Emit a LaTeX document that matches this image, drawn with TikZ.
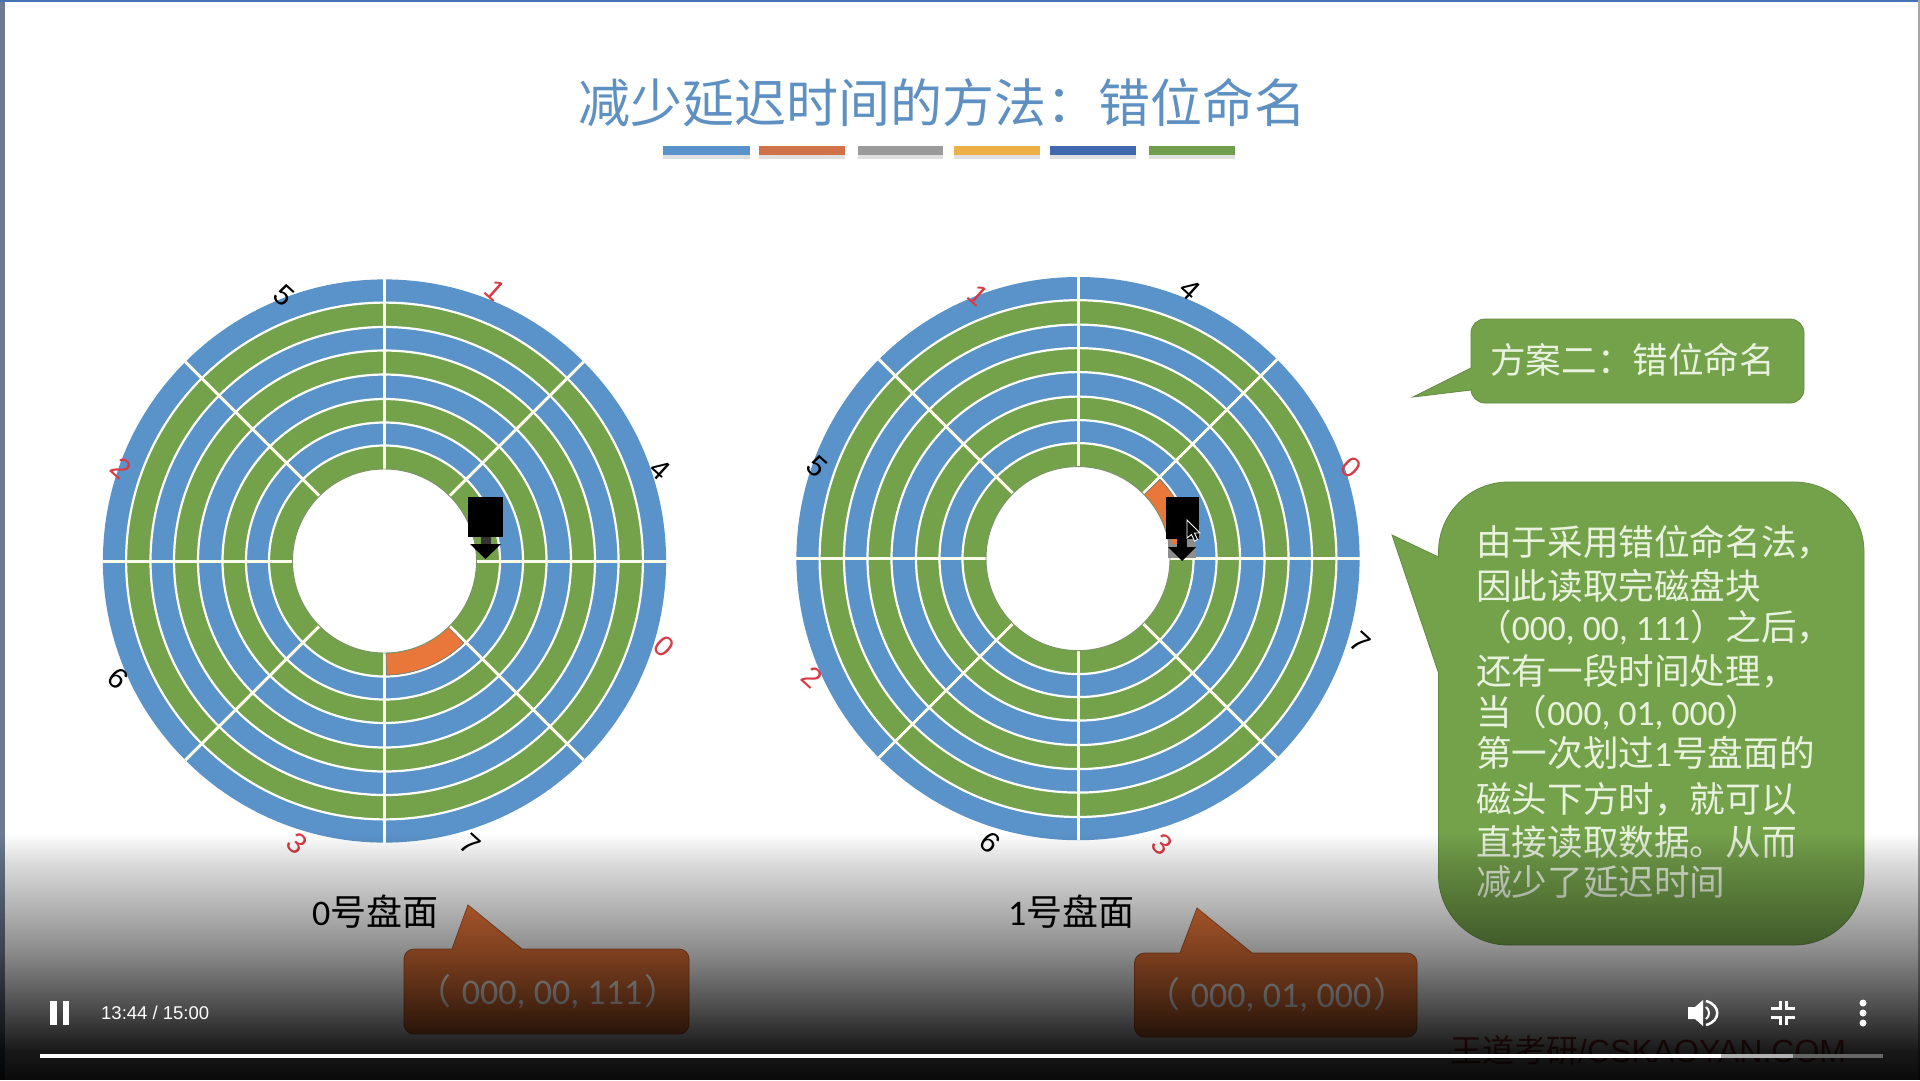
\documentclass[tikz,border=0pt]{standalone}
\usepackage{fontspec}
\setmainfont{Noto Sans CJK SC}
\newfontfamily\la{Carlito}
\newfontfamily\ar{Liberation Sans}
\definecolor{dblue}{HTML}{5A93C9}
\definecolor{dgreen}{HTML}{74A24B}
\definecolor{dorange}{HTML}{E9773A}
\definecolor{numred}{HTML}{D93A44}
\definecolor{btxt}{HTML}{E8F2DE}
\definecolor{edgeL}{HTML}{6C7B90}
\definecolor{edgeT}{HTML}{4472B4}
\newcommand{\fsz}[1]{\fontsize{#1}{#1}\selectfont}
\tikzset{
  x=1pt,y=-1pt,
  gline/.style={white,line width=2.2pt},
  rline/.style={white!92!yellow,line width=3pt},
  nlabel/.style={font=\ar\fsz{29},inner sep=0pt,rotate=-42},
  blk/.style={nlabel,text=black},
  rd/.style={nlabel,text=numred},
  bline/.style={font=\fsz{35.6},text=btxt,inner sep=0pt,anchor=base west},
  bubble/.style={fill=dgreen,draw=dgreen!85!black,line width=0.8pt},
  brown/.style={fill=dorange,draw=dorange!75!black,line width=0.8pt},
  ctrl/.style={fill=white,draw=none},
}
\newcommand{\ringdisc}[2]{%
  \begin{scope}[shift={(#1,#2)}]
    \fill[dblue] (0,0) circle[radius=281.6pt];
    \fill[dgreen] (0,0) circle[radius=258.4pt];
    \fill[dblue] (0,0) circle[radius=234pt];
    \fill[dgreen] (0,0) circle[radius=210.5pt];
    \fill[dblue] (0,0) circle[radius=186.5pt];
    \fill[dgreen] (0,0) circle[radius=162pt];
    \fill[dblue] (0,0) circle[radius=138.5pt];
    \fill[dgreen] (0,0) circle[radius=115.5pt];
    \foreach \r in {258.4,234,210.5,186.5,162,138.5,115.5}
      \draw[gline] (0,0) circle[radius=\r pt];
    \foreach \a in {0,45,...,315}
      \draw[rline] (\a:91.4pt) -- (\a:281.6pt);
  \end{scope}}
\newcommand{\holedisc}[2]{%
  \fill[white,draw=dgreen!50!gray,line width=0.9pt] (#1,#2) circle[radius=92pt];}
\newcommand{\sect}[4]{%
  \begin{scope}[shift={(#1,#2)}]
    \fill[dorange,draw=black!50!white,line width=0.8pt] (#3:92pt) arc[start angle=#3,end angle=#4,radius=92pt] -- (#4:114pt) arc[start angle=#4,end angle=#3,radius=114pt] -- cycle;
  \end{scope}}
\begin{document}
\begin{tikzpicture}
\useasboundingbox (0,0) rectangle (1920,1080);
\fill[white] (0,0) rectangle (1920,1080);
% window edges
\fill[edgeL] (0,0) rectangle (4.5,1080);
\fill[edgeT] (0,0) rectangle (1920,2);
\fill[black!35] (1918,0) rectangle (1920,1080);
% title
\node[font=\fsz{52},text=dblue!90!gray,inner sep=0pt] (title) at (942,103) {减少延迟时间的方法：错位命名};
\foreach \xa/\xb/\c in {663/750/5A93C9,759/845/D0734A,858/943/9A9A9A,954/1040/EDB045,1050/1136/3F68AE,1149/1235/6F9F4D}{
  \definecolor{barc}{HTML}{\c}
  \fill[black,opacity=.12] (\xa,149) rectangle (\xb,159);
  \fill[barc] (\xa,146) rectangle (\xb,155);
}
% discs
\ringdisc{384.5}{561}
\ringdisc{1078}{558.6}
\sect{384.5}{561}{271}{314}
\sect{1078}{558.6}{1}{44}
\holedisc{384.5}{561}
\holedisc{1078}{558.6}
% disc labels
\node[rd]  (la1) at (494.7,290.7) {1};
\node[blk] (la4) at (660,469.5) {4};
\node[rd]  (la0) at (664,646.6) {0};
\node[blk] (la7) at (470,844) {7};
\node[rd]  (la3) at (296.7,843) {3};
\node[blk] (la6) at (118,678) {6};
\node[rd]  (la2) at (121,468.7) {2};
\node[blk] (la5) at (283.7,295.5) {5};
\node[rd]  (lb1) at (978,295.5) {1};
\node[blk] (lb4) at (1190,289.5) {4};
\node[rd]  (lb0) at (1351.6,467.5) {0};
\node[blk] (lb7) at (1360,642.6) {7};
\node[rd]  (lb3) at (1162,844) {3};
\node[blk] (lb6) at (990,842) {6};
\node[rd]  (lb2) at (812,677) {2};
\node[blk] (lb5) at (817,466.3) {5};
% read heads
\fill[black] (468,497) rectangle (503,537);
\fill[black!80] (481,537) rectangle (491,544);
\fill[black] (470,544) -- (501,544) -- (485.5,559) -- cycle;
\fill[black!45] (1168,539) rectangle (1196,558);
\fill[dorange] (1171,539) rectangle (1177,544);
\fill[black] (1166,497) rectangle (1199,539);
\fill[black] (1177,539) rectangle (1187,547);
\fill[black] (1168,547) -- (1196,547) -- (1182,561) -- cycle;
\fill[black,draw=white,line width=0.9pt] (1187,520) -- (1187,538) -- (1191.5,534.5) -- (1194.5,541) -- (1197.5,539.5) -- (1194.5,533) -- (1200,533) -- cycle;
% callouts
\path[bubble] (1413,397) -- (1471,368) [rounded corners=14pt] -- (1471,319) -- (1804,319) -- (1804,403) -- (1471,403) [sharp corners] -- (1471,390) -- cycle;
\node[bline] (s1) at (1490,373) {方案二：错位命名};
\path[bubble] (1392,535) -- (1438.5,557) [rounded corners=70pt] -- (1438.5,482) -- (1864,482) -- (1864,945) -- (1438.5,945) [sharp corners] -- (1438.5,673) -- cycle;
\node[bline] (t1) at (1476,555.5) {由于采用错位命名法，};
\node[bline] (t2) at (1476,599) {因此读取完磁盘块};
\node[bline] (t3) at (1476,640.5) {（{\la 000, 00, 111}）之后，};
\node[bline] (t4) at (1476,684) {还有一段时间处理，};
\node[bline] (t5) at (1476,725.5) {当（{\la 000, 01, 000}）};
\node[bline] (t6) at (1476,766) {第一次划过{\la 1}号盘面的};
\node[bline] (t7) at (1476,812.5) {磁头下方时，就可以};
\node[bline] (t8) at (1476,855.5) {直接读取数据。从而};
\node[bline] (t9) at (1476,895.5) {减少了延迟时间};
\path[brown] (468,905) -- (522,949) [rounded corners=10pt] -- (689,949) -- (689,1034) -- (404,1034) -- (404,949) [sharp corners] -- (452,949) -- cycle;
\path[brown] (1197,908) -- (1252,953) [rounded corners=10pt] -- (1417,953) -- (1417,1037) -- (1134.5,1037) -- (1134.5,953) [sharp corners] -- (1180,953) -- cycle;
\node[font=\fsz{35},text=white,inner sep=0pt] (b1) at (548,992) {（\kern2pt{\la\fsz{36} 000, 00, 111}\kern2pt）};
\node[font=\fsz{35},text=white,inner sep=0pt] (b2) at (1277,995) {（\kern2pt{\la\fsz{36} 000, 01, 000}\kern2pt）};
\node[font=\fsz{36},inner sep=0pt,anchor=west] (d0) at (312,912) {{\la 0}号盘面};
\node[font=\fsz{36},inner sep=0pt,anchor=west] (d1) at (1008,912) {{\la 1}号盘面};
\node[font=\fsz{32},text=red!60!black!80!white,inner sep=0pt,anchor=west] (wm) at (1450,1050) {王道考研{\ar /CSKAOYAN.COM}};
% video overlay, one strip per pixel row
\foreach \yy in {833,...,1079}{
  \pgfmathsetmacro{\aa}{\yy<860 ? .13*(\yy-833)/27 : (\yy<950 ? .13+.32*(\yy-860)/90 : (\yy<1000 ? .45+.22*(\yy-950)/50 : (\yy<1050 ? .67+.23*(\yy-1000)/50 : .90+.06*(\yy-1050)/30)))}
  \fill[black,opacity=\aa] (0,\yy) rectangle (1920,\yy+1);
}
% player controls
\fill[ctrl] (50,1001) rectangle (56.5,1025);
\fill[ctrl] (62.5,1001) rectangle (69,1025);
\node[font=\ar\fsz{18.5},text=white,inner sep=0pt,anchor=west] (time) at (101,1013) {13:44 / 15:00};
\fill[white!40!black] (40,1053.5) rectangle (1883,1058);
\fill[white!70!black] (40,1053.5) rectangle (1793,1058);
\fill[white] (40,1053.5) rectangle (1721,1058);
\fill[ctrl] (1688,1007) -- (1695,1007) -- (1703,1000) -- (1703,1026) -- (1695,1019) -- (1688,1019) -- cycle;
\draw[white,line width=2pt] (1706,1007) .. controls (1710,1010) and (1710,1016) .. (1706,1019);
\draw[white,line width=2.5pt] (1706,1001) .. controls (1721,1005) and (1721,1021) .. (1706,1025);
\foreach \pts in {{(1771,1008.5) -- (1780,1008.5) -- (1780,1001)},{(1795,1008.5) -- (1786,1008.5) -- (1786,1001)},{(1771,1017.5) -- (1780,1017.5) -- (1780,1025)},{(1795,1017.5) -- (1786,1017.5) -- (1786,1025)}}
  \draw[white,line width=3pt] \pts;
\foreach \yy in {1003,1013,1023}
  \fill[ctrl] (1863,\yy) circle[radius=3.5pt];
\end{tikzpicture}
\end{document}
